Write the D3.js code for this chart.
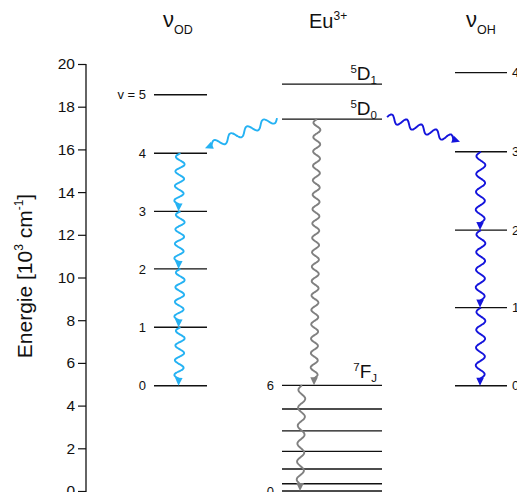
<!DOCTYPE html>
<html><head><meta charset="utf-8">
<script src="https://cdn.jsdelivr.net/npm/d3@7"></script>
<style>
body{margin:0;background:#fff}
svg{display:block}
text{font-family:"Liberation Sans",Arial,sans-serif;fill:#111}
</style>
</head><body>
<svg id="c" width="517" height="492"></svg>
<script>
// ---------- data ----------
const yTicks = [0, 2, 4, 6, 8, 10, 12, 14, 16, 18, 20];
const yMinorTicks = [1, 3, 5, 7, 9, 11, 13, 15, 17, 19];
const odLevels = [4.93, 7.67, 10.40, 13.10, 15.82, 18.56];
const odLabels = ["0", "1", "2", "3", "4", "v = 5"];
const ohLevels = [4.93, 8.59, 12.22, 15.89, 19.60];
const ohLabels = ["0", "1", "2", "3", "4"];
const euFLevels = [0, 0.34, 1.03, 1.86, 2.82, 3.84, 4.95];
const euFLabels = ["0", "", "", "", "", "", "6"];
const euDLevels = [17.42, 19.06];
const euDLabels = ["0", "1"];
// transitions (from level value, to level value)
const odCascade = [[15.82, 13.10], [13.10, 10.40], [10.40, 7.67], [7.67, 4.93]];
const ohCascade = [[15.89, 12.22], [12.22, 8.59], [8.59, 4.93]];
const euCascade = [[17.42, 4.95], [4.95, 0]];
const transfer = [["EuL", 17.42, "OD", 15.82], ["EuR", 17.42, "OH", 15.89]];

// ---------- layout ----------
const W = 517, H = 492;
const svg = d3.select("#c");
const y = d3.scaleLinear().domain([0, 20]).range([491, 64]);
const axisX = 86;
const col = {
  OD: {x0: 154, x1: 207},
  Eu: {x0: 282, x1: 382},
  OH: {x0: 455, x1: 507}
};
const cLight = "#25b2f3", cBlue = "#1414dc", cGray = "#808080";

// ---------- axis ----------
const gAx = svg.append("g").attr("transform", `translate(${axisX},0)`);
gAx.call(d3.axisLeft(y).tickValues(yMinorTicks).tickSize(4).tickFormat(""));
gAx.call(d3.axisLeft(y).tickValues(yTicks).tickSize(8).tickPadding(3).tickFormat(d3.format("d")));
gAx.selectAll("path.domain").attr("stroke", "#111").attr("stroke-width", 1.3).attr("d", `M0,${y(20)}V${H+5}`);
gAx.selectAll(".tick line").attr("stroke", "#111").attr("stroke-width", 1.2);
gAx.selectAll(".tick text").style("font-size", "15.5px").attr("fill", "#111").attr("font-family", null);

const title = svg.append("text")
  .attr("transform", "translate(32,276) rotate(-90)")
  .attr("text-anchor", "middle").style("font-size", "21px");
title.append("tspan").text("Energie [10");
title.append("tspan").text("3").style("font-size", "12px").attr("dy", -9);
title.append("tspan").text(" cm").attr("dy", 9);
title.append("tspan").text("-1").style("font-size", "12px").attr("dy", -9);
title.append("tspan").text("]").attr("dy", 9);

// ---------- levels ----------
function drawLevels(levels, c) {
  svg.append("g").selectAll("line").data(levels).join("line")
    .attr("x1", c.x0).attr("x2", c.x1)
    .attr("y1", d => y(d)).attr("y2", d => y(d))
    .attr("stroke", "#111").attr("stroke-width", 1.3);
}
drawLevels(odLevels, col.OD);
drawLevels(ohLevels, col.OH);
drawLevels(euFLevels, col.Eu);
drawLevels(euDLevels, col.Eu);

svg.append("g").selectAll("text").data(odLevels).join("text")
  .attr("x", col.OD.x0 - 8).attr("y", d => y(d)).attr("dy", "0.36em")
  .attr("text-anchor", "end").style("font-size", "13px")
  .text((d, i) => odLabels[i]);
svg.append("g").selectAll("text").data(ohLevels).join("text")
  .attr("x", col.OH.x1 + 5).attr("y", d => y(d)).attr("dy", "0.36em")
  .style("font-size", "13px").text((d, i) => ohLabels[i]);
svg.append("g").selectAll("text").data(euFLevels).join("text")
  .attr("x", col.Eu.x0 - 8).attr("y", d => y(d)).attr("dy", "0.36em")
  .attr("text-anchor", "end").style("font-size", "13px").text((d, i) => euFLabels[i]);

// state labels
function stateLabel(sup, main, sub, xr, yb) {
  const t = svg.append("text").attr("x", xr).attr("y", yb).attr("text-anchor", "end").style("font-size", "19px");
  t.append("tspan").text(sup).style("font-size", "11.5px").attr("dy", -7);
  t.append("tspan").text(main).attr("dy", 7);
  t.append("tspan").text(sub).style("font-size", "11.5px").attr("dy", 4);
}
euDLevels.forEach((d, i) => stateLabel("5", "D", euDLabels[i], 377, y(d) - 4));
stateLabel("7", "F", "J", 377, y(euFLevels[6]) - 7);

// column titles
function nuTitle(sub, xs) {
  const t = svg.append("text").attr("x", xs).attr("y", 27).style("font-size", "22px");
  t.append("tspan").text("ν");
  t.append("tspan").text(sub).style("font-size", "12.5px").attr("dy", 7);
}
nuTitle("OD", 163);
nuTitle("OH", 466);
const eu = svg.append("text").attr("x", 309).attr("y", 28).style("font-size", "20px");
eu.append("tspan").text("Eu");
eu.append("tspan").text("3+").style("font-size", "12px").attr("dy", -8);

// ---------- wavy arrows ----------
const line = d3.line().curve(d3.curveCatmullRom);
function wavy(x0, y0, x1, y1, waves, amp, color, phase = 1) {
  const dx = x1 - x0, dy = y1 - y0, L = Math.hypot(dx, dy);
  const ux = dx / L, uy = dy / L, nx = -uy, ny = ux;
  const head = 8, hw = 3.8;
  const Lw = L - head + 1;
  const N = Math.max(60, Math.round(waves * 16));
  const pts = d3.range(N + 1).map(i => {
    const t = i / N, s = t * Lw;
    const off = phase * amp * Math.sin(2 * Math.PI * waves * t);
    return [x0 + ux * s + nx * off, y0 + uy * s + ny * off];
  });
  svg.append("path").attr("d", line(pts)).attr("fill", "none")
    .attr("stroke", color).attr("stroke-width", 1.9);
  const bx = x1 - ux * head, by = y1 - uy * head;
  svg.append("path")
    .attr("d", `M${x1},${y1}L${bx + nx * hw},${by + ny * hw}L${bx - nx * hw},${by - ny * hw}Z`)
    .attr("fill", color);
}

const odC = (col.OD.x0 + col.OD.x1) / 2, ohC = (col.OH.x0 + col.OH.x1) / 2;
odCascade.forEach(([a, b]) => wavy(odC, y(a), odC - 2, y(b), 3.5, 4.5, cLight));
ohCascade.forEach(([a, b]) => wavy(ohC, y(a), ohC - 1, y(b), 4, 4.5, cBlue));
wavy(col.Eu.x0 + 35, y(euCascade[0][0]), col.Eu.x0 + 32, y(euCascade[0][1]), 18, 3.5, cGray);
wavy(col.Eu.x0 + 20, y(euCascade[1][0]), col.Eu.x0 + 18, y(euCascade[1][1]), 5.5, 3.5, cGray);
// energy transfer
wavy(col.Eu.x0 - 5, y(transfer[0][1]) - 1, col.OD.x1 - 2, y(transfer[0][3]) - 5, 4, 4, cLight, -1);
wavy(col.Eu.x1 + 5, y(transfer[1][1]) - 2, col.OH.x0 + 5, y(transfer[1][3]) - 10, 4.5, 4, cBlue, -1);
</script>
</body></html>
